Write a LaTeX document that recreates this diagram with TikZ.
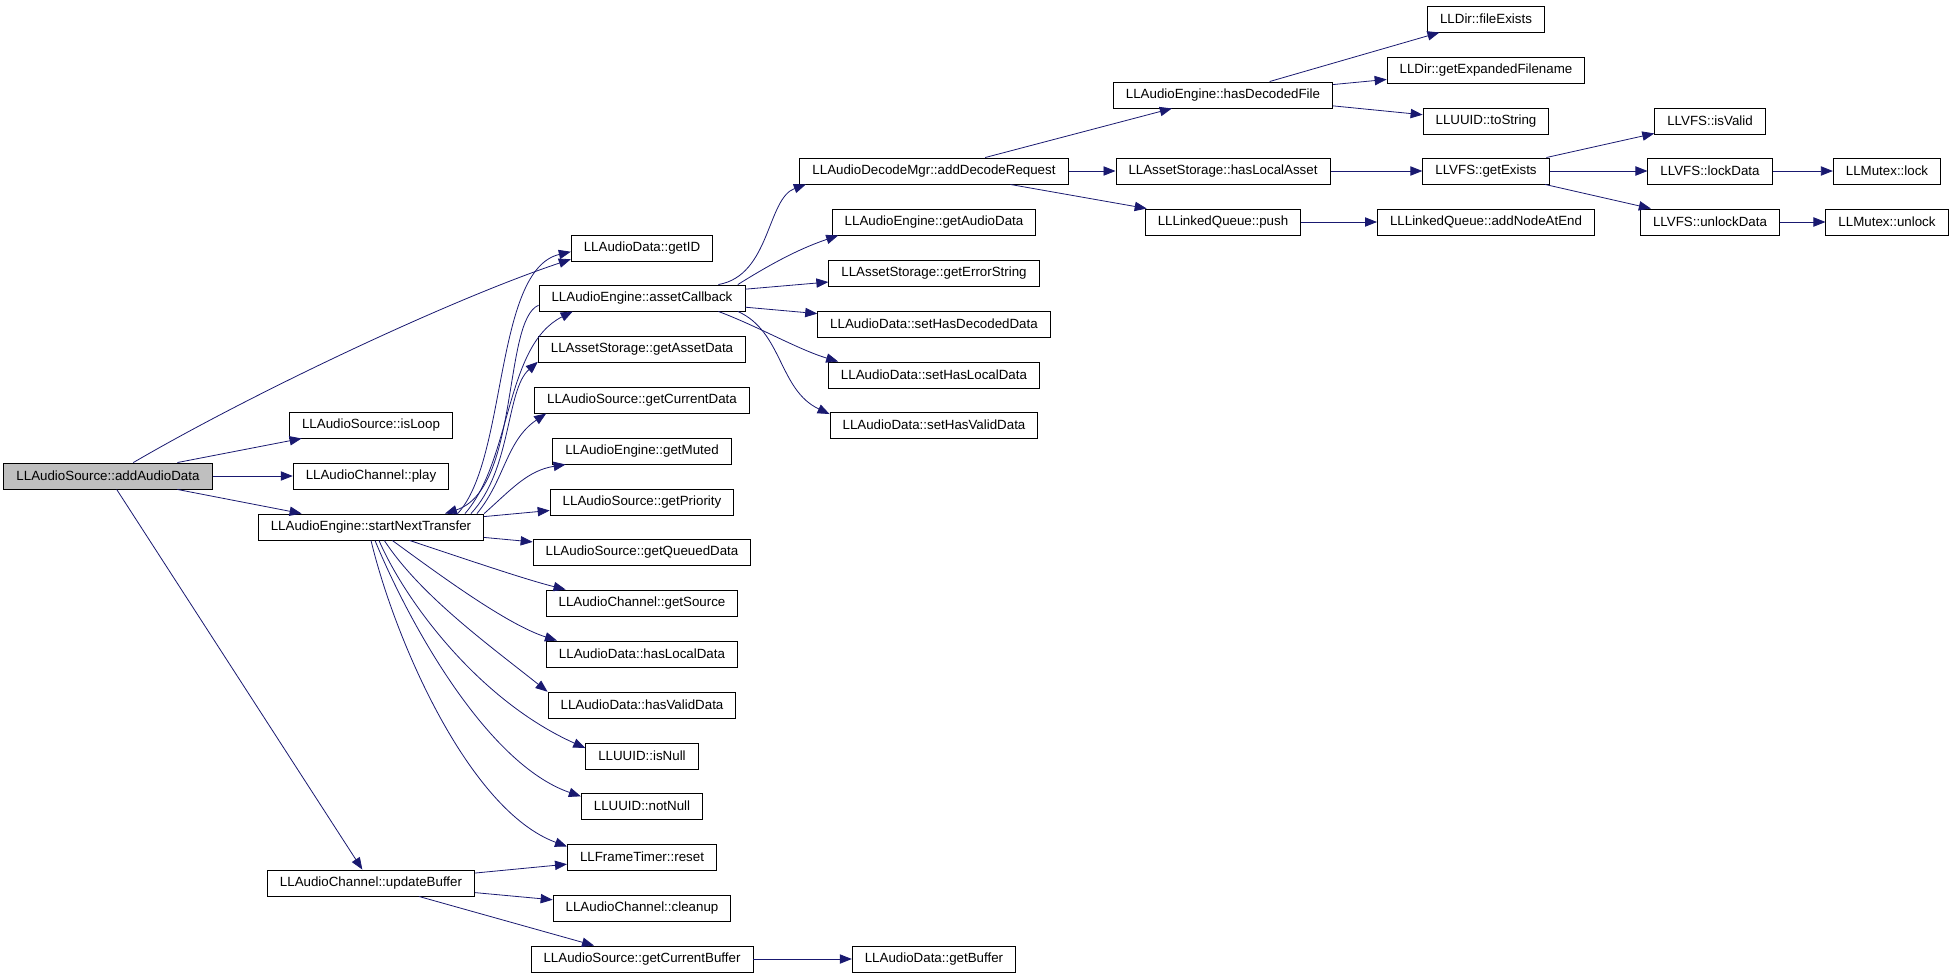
\documentclass[tikz,border=0pt]{standalone}
\usepackage{fontspec}
\setmainfont{Liberation Sans}
\usetikzlibrary{arrows.meta}
\definecolor{callblue}{HTML}{191970}
\definecolor{focusgray}{HTML}{BFBFBF}

\begin{document}
\begin{tikzpicture}[x=0.75pt, y=-0.75pt,
  fn/.style={draw, fill=white, line width=0.7pt, font=\fontsize{10}{12}\selectfont,
    minimum height=19.5pt, inner xsep=9.4pt, inner ysep=0pt},
  call/.style={draw=callblue, line width=0.6pt, -{Triangle[length=9pt,width=7pt]}}]
\useasboundingbox (0,0) rectangle (1952,975);

% The function itself
\node[fn, fill=focusgray] (aad) at (108,476) {LLAudioSource::addAudioData};

% First level
\foreach \n/\t/\y in {isl/LLAudioSource::isLoop/425, ply/LLAudioChannel::play/476,
    snt/LLAudioEngine::startNextTransfer/527, upd/LLAudioChannel::updateBuffer/883}
  \node[fn] (\n) at (371,\y) {\t};

% Second level
\foreach \n/\t/\y in {gid/LLAudioData::getID/248, acb/LLAudioEngine::assetCallback/298,
    gasd/LLAssetStorage::getAssetData/349, gcd/LLAudioSource::getCurrentData/400,
    gmu/LLAudioEngine::getMuted/451, gpr/LLAudioSource::getPriority/502,
    gqd/LLAudioSource::getQueuedData/552, gsr/LLAudioChannel::getSource/603,
    hld/LLAudioData::hasLocalData/654, hvd/LLAudioData::hasValidData/705,
    inl/LLUUID::isNull/756, nnl/LLUUID::notNull/806, rst/LLFrameTimer::reset/857,
    cln/LLAudioChannel::cleanup/908, gcb/LLAudioSource::getCurrentBuffer/959}
  \node[fn] (\n) at (642,\y) {\t};

% Third level
\foreach \n/\t/\y in {adr/LLAudioDecodeMgr::addDecodeRequest/171, gad/LLAudioEngine::getAudioData/222,
    ges/LLAssetStorage::getErrorString/273, shd/LLAudioData::setHasDecodedData/324,
    shl/LLAudioData::setHasLocalData/375, shv/LLAudioData::setHasValidData/425,
    gbf/LLAudioData::getBuffer/959}
  \node[fn] (\n) at (934,\y) {\t};

% Deeper levels
\foreach \n/\t/\y in {hdf/LLAudioEngine::hasDecodedFile/95, hla/LLAssetStorage::hasLocalAsset/171,
    psh/LLLinkedQueue::push/222}
  \node[fn] (\n) at (1223,\y) {\t};
\foreach \n/\t/\y in {fex/LLDir::fileExists/19, gef/LLDir::getExpandedFilename/70,
    tst/LLUUID::toString/121, gex/LLVFS::getExists/171, ane/LLLinkedQueue::addNodeAtEnd/222}
  \node[fn] (\n) at (1486,\y) {\t};
\foreach \n/\t/\y in {ivl/LLVFS::isValid/121, lkd/LLVFS::lockData/171, ulk/LLVFS::unlockData/222}
  \node[fn] (\n) at (1710,\y) {\t};
\node[fn] (lck) at (1887,171) {LLMutex::lock};
\node[fn] (ulc) at (1887,222) {LLMutex::unlock};

% Straight calls
\foreach \a/\b in {aad/isl, aad/ply, aad/snt, aad/upd, snt/gpr, snt/gqd, acb/ges, acb/shd,
    upd/rst, upd/cln, upd/gcb, gcb/gbf, adr/hdf, adr/hla, adr/psh, hdf/fex, hdf/gef,
    hdf/tst, hla/gex, psh/ane, gex/ivl, gex/lkd, gex/ulk, lkd/lck, ulk/ulc}
  \draw[call] (\a) -- (\b);

% Curved calls, upwards out of startNextTransfer
\draw[call] (aad.28) .. controls +(120,-70) and +(-120,40) .. (gid.189);
\draw[call] ([xshift=65pt]snt.north) .. controls +(50,-54) and +(-77,18) .. (gid.183);
\draw[call] (acb.184) .. controls +(-36,15) and +(75,-24) .. ([xshift=55.5pt]snt.north);
\draw[call] ([xshift=70.5pt]snt.north) .. controls +(47,-54) and +(-68,34) .. (acb.191);
\draw[call] ([xshift=75pt]snt.north) .. controls +(41,-44) and +(-32,28) .. (gasd.187);
\draw[call] ([xshift=79.5pt]snt.north) .. controls +(28,-34) and +(-40,27) .. (gcd.188);
\draw[call] (snt.north east) .. controls +(27,-24) and +(-38,6) .. (gmu.190);

% Curved calls out of assetCallback
\draw[call] (acb.10) .. controls +(52,-9) and +(-39,14) .. (adr.186);
\draw[call] (acb.8) .. controls +(40,-25) and +(-35,12) .. (gad.188);
\draw[call] (acb.-10) .. controls +(40,15) and +(-40,-12) .. (shl.172);
\draw[call] (acb.-8) .. controls +(45,20) and +(-51,-24) .. (shv.174);

% Curved calls, downwards out of startNextTransfer
\draw[call] ([xshift=29pt]snt.south) .. controls +(60,20) and +(-40,-10) .. (gsr.170);
\draw[call] ([xshift=16pt]snt.south) .. controls +(48,35) and +(-50,-16) .. (hld.171);
\draw[call] ([xshift=10pt]snt.south) .. controls +(36,55) and +(-59,-47) .. (hvd.172);
\draw[call] ([xshift=6pt]snt.south) .. controls +(26,60) and +(-107,-48) .. (inl.172);
\draw[call] ([xshift=3pt]snt.south) .. controls +(35,85) and +(-93,-32) .. (nnl.171);
\draw[call] (snt.south) .. controls +(24,100) and +(-98,-36) .. (rst.172);
\end{tikzpicture}
\end{document}
